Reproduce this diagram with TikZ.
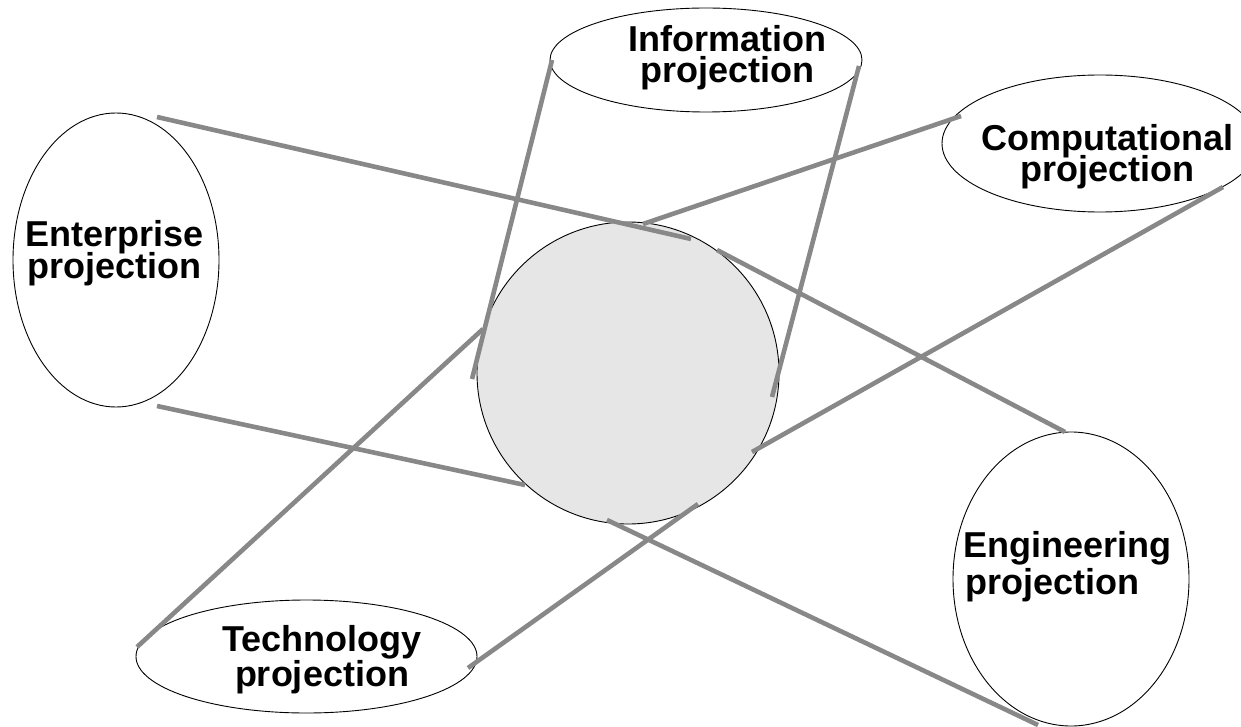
\documentclass[tikz,border=0pt]{standalone}
\usepackage{fontspec}
\setmainfont{Liberation Sans}
\usetikzlibrary{shapes.geometric}
\definecolor{barc}{RGB}{136,136,136}
\definecolor{corec}{RGB}{230,230,230}
\begin{document}
\begin{tikzpicture}[x=1pt,y=-1pt,
  proj/.style={draw=black, line width=0.9pt, ellipse, inner sep=0pt, outer sep=0pt},
  core/.style={draw=black, line width=0.9pt, circle, fill=corec, inner sep=0pt, minimum size=302pt},
  bar/.style={draw=barc, line width=4.6pt},
  lbl/.style={font={\fontsize{36}{31.5}\selectfont\bfseries\lineskiplimit=-100pt}, inner sep=0pt, anchor=base, align=center}]
\clip (0,0) rectangle (1241,727);
\useasboundingbox (0,0) rectangle (1241,727);
% projection ellipses
\node[proj, minimum width=206pt, minimum height=294pt] (ent) at (116,260) {};
\node[proj, minimum width=312pt, minimum height=104pt] (info) at (706,60) {};
\node[proj, minimum width=316pt, minimum height=137pt] (comp) at (1100,143.5) {};
\node[proj, minimum width=341pt, minimum height=113pt] (tech) at (306.5,656.5) {};
\node[proj, minimum width=236pt, minimum height=294pt] (eng) at (1071,579) {};
% central circle
\node[core] (c) at (628,373) {};
% labels (positioned at the baseline of the last line)
\node[lbl] (entl) at (114.5,278) {Enterprise\\projection};
\node[lbl] (infol) at (727,83) {Information\\projection};
\node[lbl] (compl) at (1107.5,182) {Computational\\projection};
\node[lbl] (techl) at (322,686) {Technology\\[3.5pt]projection};
\node[lbl, anchor=base west, align=left] (engl) at (963,594) {Engineering\\[5.5pt]\hspace{2pt}projection};
% bar end points
\coordinate (e1) at (157,117);  \coordinate (c1) at (691,239);
\coordinate (e2) at (157,406);  \coordinate (c2) at (525,485);
\coordinate (i1) at (552,60);   \coordinate (c3) at (472,379);
\coordinate (i2) at (859,66);   \coordinate (c4) at (772,397);
\coordinate (p1) at (961,116);  \coordinate (c5) at (643,224);
\coordinate (p2) at (1223,187); \coordinate (c6) at (752,452);
\coordinate (g1) at (1065,432); \coordinate (c7) at (717,250);
\coordinate (g2) at (1038,725); \coordinate (c8) at (607,520);
\coordinate (t1) at (137,647);  \coordinate (c9) at (483,329);
\coordinate (t2) at (468,668);  \coordinate (c10) at (698,504);
% bars
\draw[bar] (e1) -- (c1);
\draw[bar] (e2) -- (c2);
\draw[bar] (i1) -- (c3);
\draw[bar] (i2) -- (c4);
\draw[bar] (p1) -- (c5);
\draw[bar] (p2) -- (c6);
\draw[bar] (g1) -- (c7);
\draw[bar] (g2) -- (c8);
\draw[bar] (t1) -- (c9);
\draw[bar] (t2) -- (c10);
\end{tikzpicture}
\end{document}
